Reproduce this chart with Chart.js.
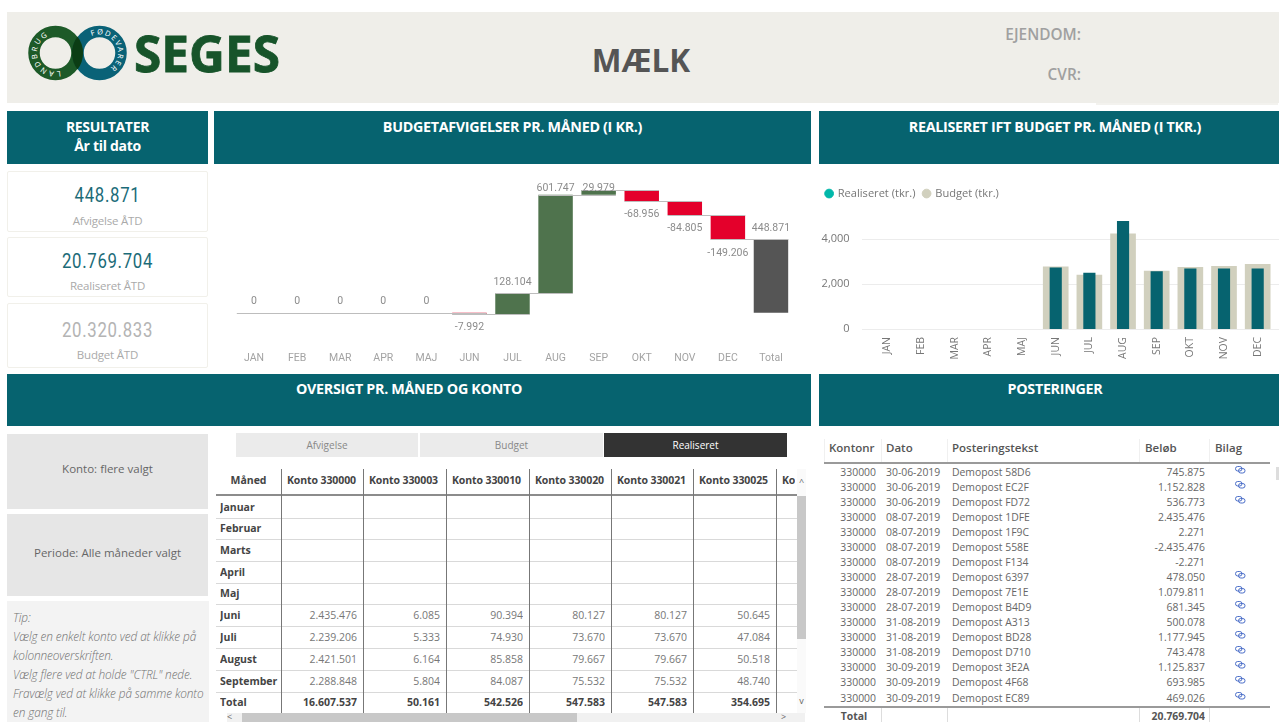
<!DOCTYPE html>
<html lang="da">
<head>
<meta charset="utf-8">
<title>Mælk</title>
<script src="https://cdn.jsdelivr.net/npm/chart.js@4"></script>
<style>
    html, body { margin: 0; padding: 0; background: #fff; overflow: hidden; }
    body { position: relative; width: 1279px; height: 722px; font-family: "Open Sans", sans-serif; }
    .box { position: absolute; box-sizing: border-box; }
    .head { background: #06636f; color: #fff; font-weight: 700; font-size: 14.3px; text-align: center; line-height: 19px; letter-spacing: -0.3px; }
    .kpi { left: 7px; width: 201px; border: 1px solid #f1f0ea; border-radius: 2px; text-align: center; }
    .kpi .val { position: absolute; left: 0; right: 0; font-family: Roboto, sans-serif; font-size: 19.5px; letter-spacing: 0.8px; transform: scaleX(0.86); }
    .kpi .lab { position: absolute; left: 0; right: 0; font-size: 11.5px; color: #aaa; letter-spacing: -0.2px; }
    .slicer { left: 7px; width: 201px; background: #e6e6e6; color: #666; font-size: 11.5px; text-align: center; }
    .btn { top: 433px; height: 24px; line-height: 24px; background: #ebebeb; color: #888; font-size: 10px; text-align: center; }
    .tip { left: 7px; top: 601px; width: 202px; height: 121px; background: #f3f3f3; color: #707070; font-size: 11.8px; font-style: italic; font-weight: 300; line-height: 18.9px; padding: 7px 0 0 6px; overflow: hidden; letter-spacing: -0.1px; }
    .cell { position: absolute; box-sizing: border-box; white-space: nowrap; overflow: hidden; }
    canvas { position: absolute; }
</style>
</head>
<body>

<div class="box" style="left:7px;top:12px;width:1272px;height:91px;background:#efeee9"></div>
<div class="box" style="left:1096px;top:103px;width:182px;height:2px;background:#f3f2ee"></div>
<svg class="box" style="left:20px;top:20px" width="270" height="68" viewBox="0 0 270 68">
    <defs>
        <path id="ringLeft" d="M 40.3 50.9 A 18.5 18.5 0 1 1 44.75 17" fill="none"/>
        <path id="ringRight" d="M 71.7 16.2 A 18.5 18.5 0 1 1 76.3 51.2" fill="none"/>
    </defs>
    <circle cx="35.5" cy="33" r="21.5" fill="none" stroke="#1d5a28" stroke-width="11.5"/>
    <circle cx="79.5" cy="33" r="21.5" fill="none" stroke="#0a6277" stroke-width="11.5"/>
    <path d="M 57.5 16.5 A 27.25 27.25 0 0 1 57.5 49.5 A 27.25 27.25 0 0 1 57.5 16.5 Z" fill="#0b3d14"/>
    <text font-family="Noto Sans" font-size="7.5" fill="#fff" letter-spacing="2"><textPath href="#ringLeft">LANDBRUG</textPath></text>
    <text font-family="Noto Sans" font-size="7.5" fill="#fff" letter-spacing="1.5"><textPath href="#ringRight">FØDEVARER</textPath></text>
    <text x="114" y="52" font-family="Noto Sans" font-weight="700" font-size="50" fill="#17542a" textLength="146" lengthAdjust="spacingAndGlyphs" stroke="#17542a" stroke-width="0.8">SEGES</text>
</svg>
<div class="box" style="left:441px;top:38px;width:400px;text-align:center;font-size:31.5px;font-weight:700;color:#555;line-height:44px">MÆLK</div>
<div class="box" style="left:881px;top:25px;width:200px;text-align:right;font-size:15.4px;font-weight:600;color:#a0a0a0;line-height:20px">EJENDOM:</div>
<div class="box" style="left:881px;top:65px;width:200px;text-align:right;font-size:15.4px;font-weight:600;color:#a0a0a0;line-height:20px">CVR:</div>

<div class="box head" style="left:7px;top:111px;width:201px;height:53px;padding-top:6px;font-size:14px">RESULTATER<br>År til dato</div>
<div class="box head" style="left:214px;top:111px;width:597px;height:53px;padding-top:6px">BUDGETAFVIGELSER PR. MÅNED (I KR.)</div>
<div class="box head" style="left:819px;top:111px;width:460px;height:53px;padding:6px 0 0 12px">REALISERET IFT BUDGET PR. MÅNED (I TKR.)</div>
<div class="box head" style="left:7px;top:374px;width:804px;height:52px;padding-top:5px">OVERSIGT PR. MÅNED OG KONTO</div>
<div class="box head" style="left:819px;top:374px;width:460px;height:52px;padding:5px 0 0 12px">POSTERINGER</div>

<div id="kpis"></div>

<canvas id="waterfallChart" style="left:215px;top:165px" width="596" height="208"></canvas>
<canvas id="budgetChart" style="left:815px;top:165px" width="464" height="208"></canvas>

<div class="box slicer" style="top:434px;height:75px;line-height:69px">Konto: flere valgt</div>
<div class="box slicer" style="top:514px;height:82px;line-height:78px">Periode: Alle måneder valgt</div>
<div class="box tip">Tip:<br>Vælg en enkelt konto ved at klikke på kolonneoverskriften.<br>Vælg flere ved at holde "CTRL" nede.<br>Fravælg ved at klikke på samme konto en gang til.</div>

<div class="box btn" style="left:236px;width:182px">Afvigelse</div>
<div class="box btn" style="left:420px;width:183px">Budget</div>
<div class="box btn" style="left:604px;width:183px;background:#333;color:#fff">Realiseret</div>

<div id="monthTable"></div>
<div id="postTable"></div>

<script>
    // Vandfald (kr.)
    const months = ['JAN', 'FEB', 'MAR', 'APR', 'MAJ', 'JUN', 'JUL', 'AUG', 'SEP', 'OKT', 'NOV', 'DEC'];
    const deviations = [0, 0, 0, 0, 0, -7992, 128104, 601747, 29979, -68956, -84805, -149206];
    const deviationLabels = ['0', '0', '0', '0', '0', '-7.992', '128.104', '601.747', '29.979', '-68.956', '-84.805', '-149.206'];
    const totalLabel = 'Total';
    const totalValue = 448871;
    const totalText = '448.871';

    // Realiseret og budget (tkr.)
    const realised = [null, null, null, null, null, 2710, 2486, 4777, 2545, 2665, 2665, 2665];
    const budget = [null, null, null, null, null, 2754, 2397, 4227, 2575, 2737, 2781, 2870];
    const budgetTicks = [0, 2000, 4000];

    // KPI-kort
    const kpiValues = ['448.871', '20.769.704', '20.320.833'];
    const kpiNames = ['Afvigelse ÅTD', 'Realiseret ÅTD', 'Budget ÅTD'];

    // Oversigt pr. maaned
    const tableMonths = ['Januar', 'Februar', 'Marts', 'April', 'Maj', 'Juni', 'Juli', 'August', 'September', 'Total'];
    const tableAccounts = ['Konto 330000', 'Konto 330003', 'Konto 330010', 'Konto 330020', 'Konto 330021', 'Konto 330025', 'Konto 330030'];
    const konto330000 = ['', '', '', '', '', '2.435.476', '2.239.206', '2.421.501', '2.288.848', '16.607.537'];
    const konto330003 = ['', '', '', '', '', '6.085', '5.333', '6.164', '5.804', '50.161'];
    const konto330010 = ['', '', '', '', '', '90.394', '74.930', '85.858', '84.087', '542.526'];
    const konto330020 = ['', '', '', '', '', '80.127', '73.670', '79.667', '75.532', '547.583'];
    const konto330021 = ['', '', '', '', '', '80.127', '73.670', '79.667', '75.532', '547.583'];
    const konto330025 = ['', '', '', '', '', '50.645', '47.084', '50.518', '48.740', '354.695'];

    // Posteringer
    const postDates = ['30-06-2019', '30-06-2019', '30-06-2019', '08-07-2019', '08-07-2019', '08-07-2019', '08-07-2019', '28-07-2019', '28-07-2019', '28-07-2019', '31-08-2019', '31-08-2019', '31-08-2019', '30-09-2019', '30-09-2019', '30-09-2019'];
    const postTexts = ['58D6', 'EC2F', 'FD72', '1DFE', '1F9C', '558E', 'F134', '6397', '7E1E', 'B4D9', 'A313', 'BD28', 'D710', '3E2A', '4F68', 'EC89'];
    const postAmounts = ['745.875', '1.152.828', '536.773', '2.435.476', '2.271', '-2.435.476', '-2.271', '478.050', '1.079.811', '681.345', '500.078', '1.177.945', '743.478', '1.125.837', '693.985', '469.026'];
    const postLinks = [1, 1, 1, 0, 0, 0, 0, 1, 1, 1, 1, 1, 1, 1, 1, 1];

    function addCell(parent, left, top, width, height, text, style) {
        const cell = document.createElement('div');
        cell.className = 'cell';
        cell.style.cssText = `left:${left}px;top:${top}px;width:${width}px;height:${height}px;line-height:${height}px;` + (style || '');
        cell.textContent = text;
        parent.appendChild(cell);
        return cell;
    }

    // KPI-kort
    function drawKpis() {
        const host = document.getElementById('kpis');
        const tops = [171, 237, 303];
        const heights = [61, 60, 65];
        const valueTops = [12, 12, 15];
        const nameTops = [41, 40, 43];
        const colors = ['#1b6b78', '#1b6b78', '#b4b4b4'];
        kpiValues.forEach((value, i) => {
            const card = document.createElement('div');
            card.className = 'box kpi';
            card.style.top = tops[i] + 'px';
            card.style.height = heights[i] + 'px';
            card.innerHTML = `<div class="val" style="top:${valueTops[i]}px;color:${colors[i]}">${value}</div>` +
                `<div class="lab" style="top:${nameTops[i]}px">${kpiNames[i]}</div>`;
            host.appendChild(card);
        });
    }

    // Tabel pr. maaned
    function drawMonthTable() {
        const host = document.getElementById('monthTable');
        const columns = [konto330000, konto330003, konto330010, konto330020, konto330021, konto330025];
        const colX = [281, 363, 446, 529, 611, 693, 776];
        const rowLines = [496, 518, 539, 561, 583, 604, 626, 648, 670, 692, 713];
        const rule = 'position:absolute;background:';

        addCell(host, 216, 467, 65, 27, 'Måned', 'text-align:center;font-size:10.5px;font-weight:700;color:#444');
        tableAccounts.forEach((name, i) => {
            const width = i === 6 ? 19 : colX[i + 1] - colX[i];
            addCell(host, colX[i], 467, width, 27, name, 'font-size:10.5px;font-weight:700;color:#444;padding-left:6px;letter-spacing:-0.1px');
        });
        tableMonths.forEach((name, r) => {
            const top = rowLines[r];
            const height = rowLines[r + 1] - top;
            const weight = r === 9 ? 700 : 400;
            addCell(host, 220, top, 61, height, name, 'font-size:10.5px;font-weight:700;color:#444');
            columns.forEach((col, c) => {
                addCell(host, colX[c], top, colX[c + 1] - colX[c] - 6, height, col[r],
                    `text-align:right;font-size:10.5px;font-weight:${weight};color:${r === 9 ? '#444' : '#777'}`);
            });
        });
        rowLines.slice(1, 10).forEach(y => {
            const line = document.createElement('div');
            line.style.cssText = rule + `#d9d9d9;left:216px;top:${y}px;width:581px;height:1px`;
            host.appendChild(line);
        });
        const headLine = document.createElement('div');
        headLine.style.cssText = rule + '#8c8c8c;left:216px;top:494px;width:581px;height:2px';
        host.appendChild(headLine);
        colX.forEach(x => {
            const line = document.createElement('div');
            line.style.cssText = rule + `#777;left:${x}px;top:469px;width:1px;height:244px`;
            host.appendChild(line);
        });
        [
            [797, 469, 9, 244, '#fafafa'],
            [797, 496, 9, 143, '#c8c8c8'],
            [227, 713, 578, 9, '#f1f1f1'],
            [242, 713, 335, 9, '#c8c8c8']
        ].forEach(b => {
            const bar = document.createElement('div');
            bar.style.cssText = rule + `${b[4]};left:${b[0]}px;top:${b[1]}px;width:${b[2]}px;height:${b[3]}px`;
            host.appendChild(bar);
        });
        addCell(host, 796, 476, 11, 12, '^', 'text-align:center;font-size:9px;color:#666');
        addCell(host, 796, 695, 11, 12, 'v', 'text-align:center;font-size:9px;color:#666');
        addCell(host, 224, 712, 11, 10, '<', 'text-align:center;font-size:9px;color:#666');
        addCell(host, 778, 712, 11, 10, '>', 'text-align:center;font-size:9px;color:#666');
    }

    // Posteringstabel
    function drawPostTable() {
        const host = document.getElementById('postTable');
        const rowTops = [471.5, 486.5, 502, 516.5, 532, 546.5, 562, 577, 592, 606.5, 622, 637, 652, 667, 682, 697.5];
        const headStyle = 'font-size:11.5px;font-weight:600;color:#555';
        const rowStyle = 'font-size:10.4px;color:#666';

        addCell(host, 829, 439, 50, 18, 'Kontonr', headStyle);
        addCell(host, 886, 439, 60, 18, 'Dato', headStyle);
        addCell(host, 952, 439, 180, 18, 'Posteringstekst', headStyle);
        addCell(host, 1145, 439, 60, 18, 'Beløb', headStyle);
        addCell(host, 1215, 439, 50, 18, 'Bilag', headStyle);

        postDates.forEach((date, i) => {
            const top = rowTops[i] - 7;
            addCell(host, 826, top, 50, 14, '330000', rowStyle + ';text-align:right');
            addCell(host, 886, top, 60, 14, date, rowStyle);
            addCell(host, 952, top, 180, 14, 'Demopost ' + postTexts[i], rowStyle);
            addCell(host, 1110, top, 95, 14, postAmounts[i], rowStyle + ';text-align:right');
            if (postLinks[i]) {
                const icon = document.createElementNS('http://www.w3.org/2000/svg', 'svg');
                icon.setAttribute('width', '11');
                icon.setAttribute('height', '8');
                icon.setAttribute('style', `position:absolute;left:1235px;top:${rowTops[i] - 6}px`);
                icon.innerHTML = '<rect x="0.5" y="0.5" width="6.5" height="4.5" rx="2.2" fill="none" stroke="#4c6fc9"/><rect x="3.5" y="2.5" width="6.5" height="4.5" rx="2.2" fill="none" stroke="#4c6fc9"/>';
                host.appendChild(icon);
            }
        });
        addCell(host, 820, 709, 58, 15, 'Total', 'font-size:10.4px;font-weight:700;color:#555;text-align:center;padding-left:10px');
        addCell(host, 1110, 709, 95, 15, '20.769.704', 'font-size:10.4px;font-weight:700;color:#555;text-align:right');
        [
            [824, 462, 446, 2, '#9a9a9a'],
            [824, 706, 446, 2, '#9a9a9a'],
            [881, 439, 1, 23, '#f0f0f0'],
            [947, 439, 1, 23, '#f0f0f0'],
            [1139, 439, 1, 23, '#f0f0f0'],
            [1209, 439, 1, 23, '#f0f0f0'],
            [824, 439, 1, 23, '#f0f0f0'],
            [881, 708, 1, 14, '#ddd'],
            [947, 708, 1, 14, '#ddd'],
            [1139, 708, 1, 14, '#ddd'],
            [1209, 708, 1, 14, '#ddd'],
            [1276, 467, 3, 13, '#ddd']
        ].forEach(b => {
            const bar = document.createElement('div');
            bar.style.cssText = `position:absolute;left:${b[0]}px;top:${b[1]}px;width:${b[2]}px;height:${b[3]}px;background:${b[4]}`;
            host.appendChild(bar);
        });
    }

    // Vandfaldsdiagram
    function createWaterfall() {
        const labels = months.concat([totalLabel]);
        const levels = [];
        let sum = 0;
        deviations.forEach(value => {
            sum += value;
            levels.push(sum);
        });
        const ranges = deviations.map((value, i) => [levels[i] - value, levels[i]]);
        ranges.push([0, totalValue]);
        const texts = deviationLabels.concat([totalText]);
        const colors = deviations.map(v => (v < 0 ? '#e4002b' : '#4f734d')).concat(['#555555']);

        const waterfallMarks = {
            id: 'waterfallMarks',
            afterDatasetsDraw(chart) {
                const ctx = chart.ctx;
                const x = chart.scales.x;
                const y = chart.scales.y;
                const step = x.getPixelForValue(1) - x.getPixelForValue(0);
                const barHalf = step * 0.4;
                const ends = levels.concat([totalValue]);

                ctx.save();
                ctx.strokeStyle = '#bdbdbd';
                ctx.lineWidth = 1;
                ends.forEach((level, i) => {
                    const px = x.getPixelForValue(i);
                    const py = Math.round(y.getPixelForValue(level)) + 0.5;
                    const nextX = i < 12 ? x.getPixelForValue(i + 1) + barHalf : px + barHalf;
                    ctx.beginPath();
                    ctx.moveTo(px - barHalf, py);
                    ctx.lineTo(nextX, py);
                    ctx.stroke();
                });

                ctx.fillStyle = '#8c8c8c';
                ctx.font = '10.5px Roboto';
                ctx.textAlign = 'center';
                ctx.textBaseline = 'middle';
                texts.forEach((text, i) => {
                    const top = y.getPixelForValue(Math.max(ranges[i][0], ranges[i][1]));
                    const bottom = y.getPixelForValue(Math.min(ranges[i][0], ranges[i][1]));
                    const negative = i < 12 && deviations[i] < 0;
                    const py = negative ? bottom + 13.5 : Math.max(top - 11, chart.chartArea.top + 18);
                    ctx.fillText(text, x.getPixelForValue(i), py);
                });
                ctx.restore();
            }
        };

        new Chart(document.getElementById('waterfallChart'), {
            type: 'bar',
            data: {
                labels: labels,
                datasets: [{
                    label: 'Afvigelse',
                    data: ranges,
                    backgroundColor: colors,
                    categoryPercentage: 1,
                    barPercentage: 0.8
                }]
            },
            options: {
                responsive: false,
                animation: false,
                layout: { padding: { left: 17.5, right: 18.5, top: 5, bottom: 0 } },
                plugins: { legend: { display: false }, tooltip: { enabled: false } },
                scales: {
                    x: {
                        afterFit(scale) { scale.height = 34; },
                        grid: { display: false },
                        border: { display: false },
                        ticks: { color: '#a3a3a3', font: { family: 'Roboto', size: 10.5 }, padding: 5, maxRotation: 0, autoSkip: false }
                    },
                    y: { display: false, min: -160000, max: 874000 }
                }
            },
            plugins: [waterfallMarks]
        });
    }

    // Soejlediagram realiseret / budget
    function createBudgetChart() {
        const gridLines = {
            id: 'gridLines',
            beforeDatasetsDraw(chart) {
                const ctx = chart.ctx;
                const y = chart.scales.y;
                ctx.save();
                ctx.strokeStyle = '#ececec';
                ctx.lineWidth = 1;
                y.ticks.forEach(tick => {
                    const py = Math.round(y.getPixelForValue(tick.value)) + 0.5;
                    ctx.beginPath();
                    ctx.moveTo(47, py);
                    ctx.lineTo(chart.width, py);
                    ctx.stroke();
                });
                ctx.restore();
            }
        };

        new Chart(document.getElementById('budgetChart'), {
            type: 'bar',
            data: {
                labels: months,
                datasets: [
                    { label: 'Realiseret (tkr.)', data: realised, backgroundColor: '#06636f', barThickness: 11.5, grouped: false, order: 1 },
                    { label: 'Budget (tkr.)', data: budget, backgroundColor: '#d1d0be', barThickness: 25, grouped: false, order: 2 }
                ]
            },
            options: {
                responsive: false,
                animation: false,
                layout: { padding: { left: 3, right: 4.5, top: 15, bottom: 0 } },
                plugins: {
                    tooltip: { enabled: false },
                    legend: {
                        align: 'start',
                        labels: {
                            usePointStyle: true,
                            pointStyle: 'circle',
                            boxWidth: 6.2,
                            boxHeight: 6.2,
                            padding: 8,
                            color: '#777',
                            font: { family: 'Open Sans', size: 11.1 },
                            generateLabels() {
                                return [
                                    { text: 'Realiseret (tkr.)', fillStyle: '#01b8aa', strokeStyle: '#01b8aa', fontColor: '#777', pointStyle: 'circle', datasetIndex: 0 },
                                    { text: 'Budget (tkr.)', fillStyle: '#d1d0be', strokeStyle: '#d1d0be', fontColor: '#777', pointStyle: 'circle', datasetIndex: 1 }
                                ];
                            }
                        }
                    }
                },
                scales: {
                    x: {
                        afterFit(scale) { scale.height = 44; },
                        grid: { display: false },
                        border: { display: false },
                        ticks: { color: '#777', font: { family: 'Open Sans', size: 10.5 }, padding: 0, minRotation: 90, maxRotation: 90, autoSkip: false }
                    },
                    y: {
                        min: 0,
                        max: 5320,
                        afterFit(scale) { scale.width = 52.6; },
                        afterBuildTicks(scale) { scale.ticks = budgetTicks.map(value => ({ value })); },
                        grid: { display: false },
                        border: { display: false },
                        ticks: {
                            padding: 13,
                            color: '#777',
                            font: { family: 'Open Sans', size: 11 },
                            callback: value => value.toLocaleString('en-US')
                        }
                    }
                }
            },
            plugins: [gridLines]
        });
    }

    drawKpis();
    drawMonthTable();
    drawPostTable();
    createWaterfall();
    createBudgetChart();
</script>
</body>
</html>
